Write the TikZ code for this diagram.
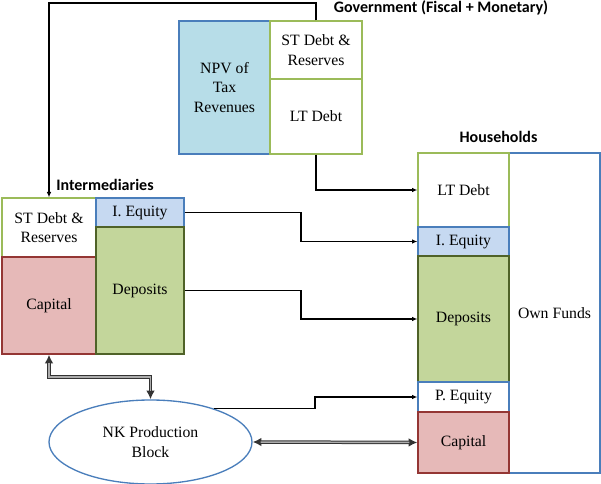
\documentclass[tikz,border=0pt]{standalone}
\usepackage{fontspec}
\setmainfont{Liberation Serif}
\newfontfamily\lblfont{Carlito}
\usetikzlibrary{arrows.meta,shapes.geometric}
\definecolor{bblue}{HTML}{4A7EBB}
\definecolor{bgreen}{HTML}{9BBB59}
\definecolor{dgreen}{HTML}{4F6228}
\definecolor{dred}{HTML}{943634}
\definecolor{npvfill}{HTML}{B7DDE8}
\definecolor{eqfill}{HTML}{C6D9F1}
\definecolor{depfill}{HTML}{C3D69B}
\definecolor{capfill}{HTML}{E6B9B8}
\begin{document}
\begin{tikzpicture}[x=0.75pt,y=-0.75pt]
\tikzstyle{box}=[draw,rectangle,line width=1pt,inner sep=0pt,align=center,font=\fontsize{11.8}{14.6}\selectfont]
\tikzstyle{sector}=[font=\lblfont\bfseries\fontsize{12}{14}\selectfont]
\tikzstyle{flow}=[line width=0.8pt,-{Latex[length=4pt,width=3.5pt]}]
\tikzstyle{dbl}=[draw=black!80,line width=2.6pt,{Latex[length=6.5pt,width=6.5pt]}-{Latex[length=6.5pt,width=6.5pt]},
  postaction={draw=gray!65,line width=1.1pt,-,shorten <=6pt,shorten >=6pt}]
\useasboundingbox (0,0) rectangle (601,484);

% government
\node[box,draw=bblue,fill=npvfill,minimum width=68.25pt,minimum height=99.75pt] at (224.5,87.5) (gnpv) {NPV of\\Tax\\Revenues};
\node[box,draw=bgreen,minimum width=69pt,minimum height=43.5pt] at (316,50) (gst) {ST Debt \&\\Reserves};
\node[box,draw=bgreen,minimum width=69pt,minimum height=56.25pt] at (316,116.5) (glt) {LT Debt};
\node[sector] at (441,8) (gov) {Government (Fiscal + Monetary)};

% intermediaries
\node[box,draw=bgreen,minimum width=70.5pt,minimum height=44.25pt] at (49,227.5) (ist) {ST Debt \&\\Reserves};
\node[box,draw=dred,fill=capfill,minimum width=70.5pt,minimum height=72.75pt] at (49,305.5) (icap) {Capital};
\node[box,draw=bblue,fill=eqfill,minimum width=66pt,minimum height=21.75pt] at (140,212.5) (ieq) {I. Equity};
\node[box,draw=dgreen,fill=depfill,minimum width=66pt,minimum height=95.25pt] at (140,290.5) (idep) {Deposits};
\node[sector] at (105,185) (inter) {Intermediaries};

% households
\node[box,draw=bblue,minimum width=68.25pt,minimum height=240pt] at (554.5,313) (own) {Own Funds};
\node[box,draw=bgreen,minimum width=68.25pt,minimum height=55.5pt] at (463.5,190) (hlt) {LT Debt};
\node[box,draw=bblue,fill=eqfill,minimum width=68.25pt,minimum height=21.75pt] at (463.5,241.5) (heq) {I. Equity};
\node[box,draw=dgreen,fill=depfill,minimum width=68.25pt,minimum height=94.5pt] at (463.5,319) (hdep) {Deposits};
\node[box,draw=bblue,minimum width=68.25pt,minimum height=22.5pt] at (463.5,397) (hpeq) {P. Equity};
\node[box,draw=dred,fill=capfill,minimum width=68.25pt,minimum height=45.75pt] at (463.5,442.5) (hcap) {Capital};
\node[sector] at (498.5,137) (house) {Households};

% production
\node[box,ellipse,draw=bblue,minimum width=152.25pt,minimum height=63pt] at (150.5,442) (nk) {NK Production\\Block};

\coordinate (govtop) at (0,3);
\coordinate (eqbend) at (301,0);
\coordinate (pbend) at (315,0);
\coordinate (ibend) at (100,377);

\draw[flow] (gst.north) |- (govtop -| ist.north) -- (ist.north);
\draw[flow] (glt.south) |- (hlt.west);
\draw[flow] (ieq.east) -- (ieq.east -| eqbend) |- (heq.west);
\draw[flow] (idep.east) -- (idep.east -| eqbend) |- (hdep.west);
\draw[flow] (nk.28) -- (nk.28 -| pbend) |- (hpeq.west);
\draw[dbl] (nk.east) -- (hcap.west);
\draw[dbl] (icap.south) |- (ibend) -| (nk.north);
\end{tikzpicture}
\end{document}
